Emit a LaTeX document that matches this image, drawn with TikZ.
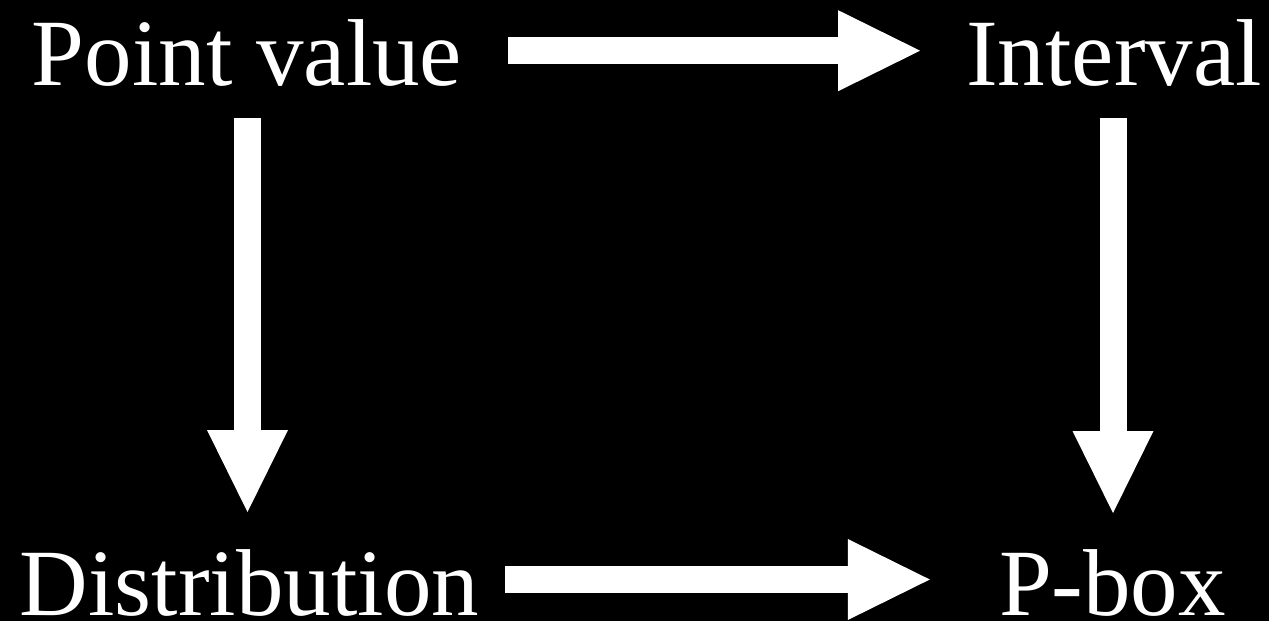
\documentclass[tikz,border=0pt]{standalone}
\usepackage{fontspec}
\setmainfont{Liberation Serif}
\usetikzlibrary{arrows.meta}
\begin{document}
\begin{tikzpicture}[x=1pt,y=-1pt,
  lbl/.style={text=white,inner sep=0pt,anchor=base,font=\fontsize{95}{110}\selectfont},
  bigarrow/.style={draw=white,line width=27pt,-{Triangle[width=81pt,length=82pt,line width=0pt]}}]
\fill[black] (0,0) rectangle (1269,621);
\useasboundingbox (0,0) rectangle (1269,621);
\node[lbl] (pv) at (247,85) {Point value};
\node[lbl] (int) at (1114,85) {Interval};
\node[lbl,text depth=0pt] (dist) at (249.5,615) {Distribution};
\node[lbl,text depth=0pt] (pbox) at (1112.5,615) {P-box};
\draw[bigarrow] ([shift={(46pt,34.3pt)}]pv.base east) -- ([shift={(-46pt,34.3pt)}]int.base west);
\draw[bigarrow] ([shift={(0.5pt,-33pt)}]pv.base) -- ([shift={(-2pt,103pt)}]dist.base);
\draw[bigarrow] ([shift={(-1pt,-33pt)}]int.base) -- ([shift={(0.5pt,102pt)}]pbox.base);
\draw[bigarrow] ([shift={(25.8pt,35.5pt)}]dist.base east) -- ([shift={(-69pt,35.5pt)}]pbox.base west);
\end{tikzpicture}
\end{document}
